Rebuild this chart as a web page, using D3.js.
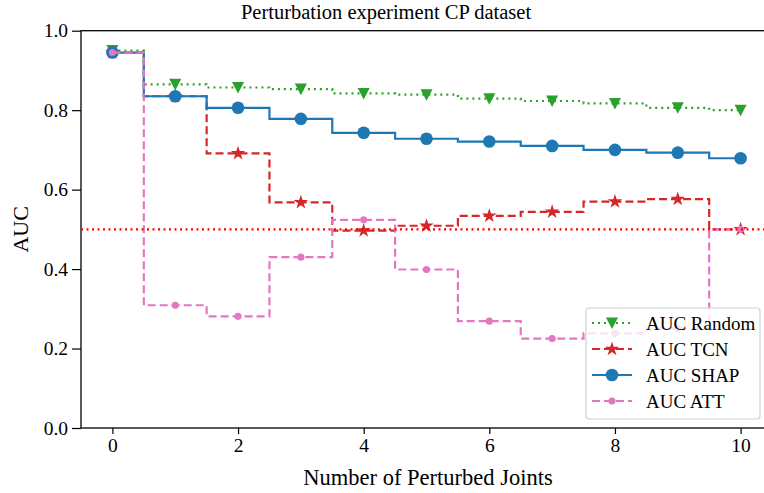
<!DOCTYPE html>
<html>
<head>
<meta charset="utf-8">
<script src="https://cdn.jsdelivr.net/npm/d3@7"></script>
<style>
  body { margin: 0; background: #fff; }
  svg text { font-family: "Liberation Serif", "Times New Roman", serif; fill: #000; }
</style>
</head>
<body>
<script>
// Daten
var joints = [0, 1, 2, 3, 4, 5, 6, 7, 8, 9, 10];
var aucRandom = [0.950, 0.865, 0.857, 0.853, 0.842, 0.839, 0.829, 0.823, 0.817, 0.806, 0.800];
var aucTCN    = [0.945, 0.835, 0.691, 0.568, 0.497, 0.509, 0.534, 0.544, 0.570, 0.576, 0.500];
var aucSHAP   = [0.945, 0.835, 0.806, 0.778, 0.743, 0.728, 0.721, 0.710, 0.700, 0.693, 0.679];
var aucATT    = [0.945, 0.309, 0.281, 0.430, 0.524, 0.399, 0.269, 0.225, 0.238, 0.250, 0.500];
var xTicks = [0, 2, 4, 6, 8, 10];
var yTicks = [0.0, 0.2, 0.4, 0.6, 0.8, 1.0];
var baseline = 0.5;

var W = 764, H = 493;
var margin = {top: 30.7, right: -8, bottom: 65, left: 81};
var width = W - margin.left - margin.right
, height = H - margin.top - margin.bottom;

var svg = d3.select("body").append("svg")
.attr("width", W)
.attr("height", H);

var g = svg.append("g")
.attr("transform", "translate(" + margin.left + "," + margin.top + ")");

var x = d3.scaleLinear().domain([-0.5, 10.5]).range([0, width]);
var y = d3.scaleLinear().domain([0, 1]).range([height, 0]);

// Achsen
var xAxis = g.append("g")
.attr("transform", "translate(0," + height + ")")
.call(d3.axisBottom(x).tickValues(xTicks).tickSize(6).tickPadding(4).tickFormat(d3.format("d")));
var yAxis = g.append("g")
.call(d3.axisLeft(y).tickValues(yTicks).tickSize(9).tickPadding(4).tickFormat(d3.format(".1f")));
[xAxis, yAxis].forEach(function (a) {
  a.select(".domain").remove();
  a.selectAll("line").attr("stroke", "#000").attr("stroke-width", 1.2);
  a.selectAll("text").style("font-size", "19.5px").style("font-family", "Liberation Serif, serif");
});

// Rahmen
g.append("rect")
.attr("width", width).attr("height", height)
.attr("fill", "none").attr("stroke", "#000").attr("stroke-width", 1.3);

var series = [
  {name: "AUC Random", vals: aucRandom, color: "#2ca02c", dash: "2,4", marker: "tri", lw: 2.2},
  {name: "AUC TCN", vals: aucTCN, color: "#d62728", dash: "8,4", marker: "star", lw: 2.2},
  {name: "AUC SHAP", vals: aucSHAP, color: "#1f77b4", dash: null, marker: "circle", lw: 2.2},
  {name: "AUC ATT", vals: aucATT, color: "#e377c2", dash: "8,4", marker: "dot", lw: 2.2}
];

var symbols = {
  tri: d3.symbol().type({draw: function (ctx, s) {
    var r = Math.sqrt(s) / 2;
    ctx.moveTo(-r * 1.1, -r); ctx.lineTo(r * 1.1, -r); ctx.lineTo(0, r * 1.1); ctx.closePath();
  }}).size(121),
  star: d3.symbol().type(d3.symbolStar).size(65),
  circle: d3.symbol().type(d3.symbolCircle).size(125),
  dot: d3.symbol().type(d3.symbolCircle).size(40)
};

var line = d3.line()
.x(function (d, i) { return x(joints[i]); })
.y(function (d) { return y(d); })
.curve(d3.curveStep);

var plot = g.append("g");
series.forEach(function (s) {
  plot.append("path")
  .datum(s.vals)
  .attr("d", line)
  .attr("fill", "none")
  .attr("stroke", s.color)
  .attr("stroke-width", s.lw)
  .attr("stroke-dasharray", s.dash);
  plot.selectAll(null)
  .data(s.vals)
  .enter().append("path")
  .attr("d", symbols[s.marker])
  .attr("transform", function (d, i) { return "translate(" + x(joints[i]) + "," + y(d) + ")"; })
  .attr("fill", s.color);
});

// 0.5 Linie
g.append("line")
.attr("x1", 0).attr("x2", width)
.attr("y1", y(baseline)).attr("y2", y(baseline))
.attr("stroke", "#ff0000").attr("stroke-width", 2.2).attr("stroke-dasharray", "2,3.5");

// Titel und Beschriftungen
svg.append("text")
.attr("x", 386).attr("y", 19)
.attr("text-anchor", "middle")
.style("font-size", "20.5px")
.text("Perturbation experiment CP dataset");

svg.append("text")
.attr("x", 428).attr("y", 485)
.attr("text-anchor", "middle")
.style("font-size", "22.5px")
.text("Number of Perturbed Joints");

svg.append("text")
.attr("transform", "translate(28," + (margin.top + y(0.5)) + ") rotate(-90)")
.attr("text-anchor", "middle")
.style("font-size", "22px")
.text("AUC");

// Legende
var leg = svg.append("g").attr("transform", "translate(586,308)");
leg.append("rect")
.attr("width", 174).attr("height", 111).attr("rx", 3)
.attr("fill", "#fff").attr("fill-opacity", 0.8)
.attr("stroke", "#d0d0d0").attr("stroke-width", 1.2);
series.forEach(function (s, i) {
  var row = leg.append("g").attr("transform", "translate(0," + (15 + i * 26) + ")");
  row.append("line")
  .attr("x1", 6).attr("x2", 46)
  .attr("stroke", s.color).attr("stroke-width", s.lw)
  .attr("stroke-dasharray", s.dash);
  row.append("path")
  .attr("d", symbols[s.marker])
  .attr("transform", "translate(26,0)")
  .attr("fill", s.color);
  row.append("text")
  .attr("x", 60).attr("y", 6.5)
  .style("font-size", "19px")
  .text(s.name);
});
</script>
</body>
</html>
